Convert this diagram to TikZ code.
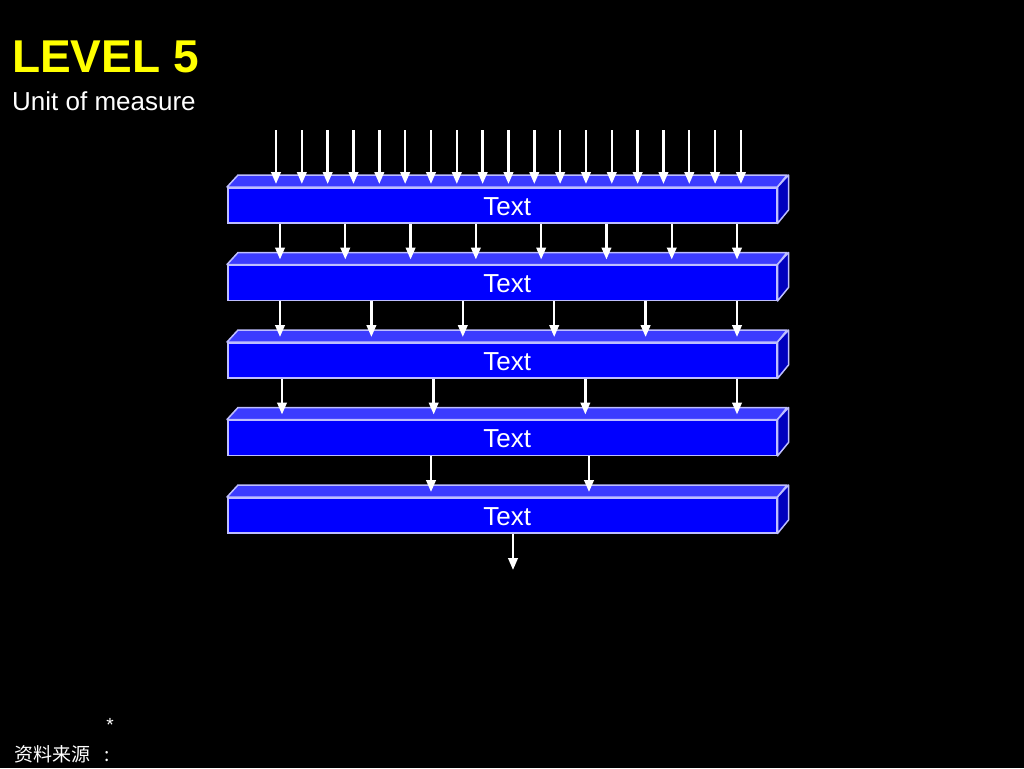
\documentclass[tikz,border=0pt]{standalone}
\usepackage{fontspec}
\setmainfont{Liberation Sans}
\newfontfamily\cjk{Noto Sans CJK SC}
\usetikzlibrary{arrows.meta}
\definecolor{frontblue}{RGB}{0,0,255}
\definecolor{topblue}{RGB}{60,60,255}
\definecolor{sideblue}{RGB}{0,0,190}
\definecolor{rimblue}{RGB}{190,190,255}
\definecolor{titleyellow}{RGB}{255,255,0}
\def\levelbox{\node[draw=rimblue,fill=frontblue,line width=1.5pt,minimum width=549pt,minimum height=35pt,inner sep=0pt,anchor=north west]}

\begin{document}
\begin{tikzpicture}[x=1pt,y=-1pt,
  flow/.style={draw=white,line width=2.4pt,-{Triangle[length=12pt,width=9.5pt]}},
  lid/.style={fill=topblue,draw=rimblue,line width=1.5pt,line join=round},
  flank/.style={fill=sideblue,draw=rimblue,line width=1.5pt,line join=round}]
\fill[black] (0,0) rectangle (1024,768);
\useasboundingbox (0,0) rectangle (1024,768);
\node[anchor=base west,inner sep=0pt,text=titleyellow,font=\bfseries\fontsize{46}{50}\selectfont] (title) at (12,72) {LEVEL 5};
\node[anchor=base west,inner sep=0pt,text=white,font=\fontsize{26}{28}\selectfont] (unit) at (12,110) {Unit of measure};

% the five levels
\foreach \i in {1,...,5} {
  \levelbox (b\i) at (227,{187+77.5*(\i-1)}) {};
  \draw[lid] (b\i.north west) -- ++(11,-12) -- ++(549,0) -- (b\i.north east) -- cycle;
  \draw[flank] (b\i.north east) -- ++(11,-12) -- ++(0,35) -- (b\i.south east) -- cycle;
  \node[text=white,font=\fontsize{26}{28}\selectfont] (t\i) at ([xshift=5pt,yshift=-1pt]b\i.center) {Text};
}

% inputs
\foreach \k in {0,...,18} {
  \coordinate (in\k) at ({276+25.83*\k},130);
  \draw[flow,shorten >=3pt] (in\k) -- (in\k |- b1.north);
}
% level to level
\foreach \n/\xs/\dx/\m in {1/280/65.29/7, 2/280/91.4/5, 3/282/151.67/3, 4/431/158/1} {
  \pgfmathtruncatemacro\nn{\n+1}
  \foreach \k in {0,...,\m} {
    \coordinate (p\n\k) at ({\xs+\dx*\k},0);
    \draw[flow,shorten >=5pt] (b\n.south -| p\n\k) -- (b\nn.north -| p\n\k);
  }
}
\coordinate (out) at (513,570);
\draw[flow] (b5.south -| out) -- (out);

\node[anchor=base,inner sep=0pt,text=white,font=\fontsize{19}{20}\selectfont] (star) at (110,731) {*};
\node[anchor=base west,inner sep=0pt,text=white,font=\cjk\fontsize{19}{21}\selectfont] (src) at (14,761) {资料来源\hspace{14pt}:};
\end{tikzpicture}
\end{document}
